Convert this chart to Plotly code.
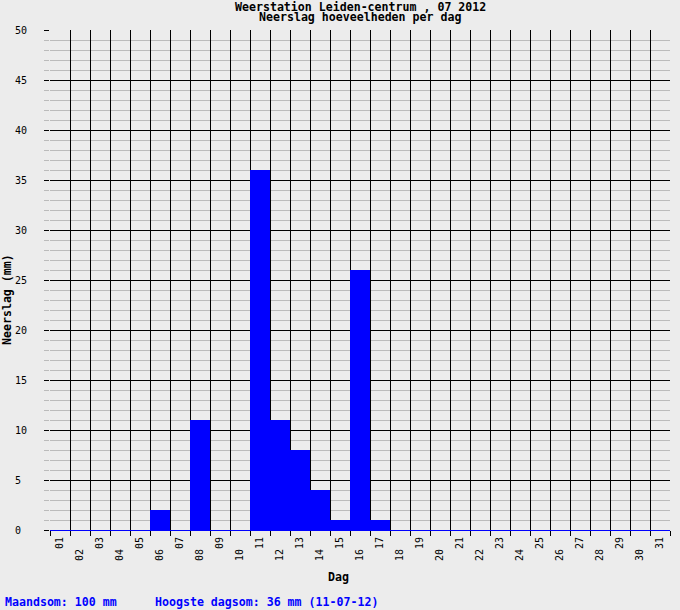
import plotly.graph_objects as go

# neerslag per dag, juli 2012 (mm)
dagen = ['%02d' % d for d in range(1, 32)]
neerslag = [0, 0, 0, 0, 0, 2, 0, 11, 0, 0,
            36, 11, 8, 4, 1, 26, 1, 0, 0, 0,
            0, 0, 0, 0, 0, 0, 0, 0, 0, 0, 0]
y_ticks = [0, 5, 10, 15, 20, 25, 30, 35, 40, 45, 50]

titel1 = 'Weerstation Leiden-centrum , 07 2012'
titel2 = 'Neerslag hoeveelheden per dag'
maandsom = 'Maandsom: 100 mm'
hoogste = 'Hoogste dagsom: 36 mm (11-07-12)'

NBSP = '\u00a0'
MONO = 'DejaVu Sans Mono'
BG = '#ececec'

# even dagen een regel lager (verspringende labels)
x_text = [d if i % 2 == 0 else d + NBSP * 2 for i, d in enumerate(dagen)]
# labels links uitlijnen
y_text = [str(v) if v >= 10 else str(v) + NBSP for v in y_ticks]

fig = go.Figure()
fig.add_trace(go.Bar(x=dagen, y=neerslag, marker=dict(color='#0000ff', line=dict(width=0)),
                     hoverinfo='x+y'))

fig.update_layout(
    width=680, height=610,
    margin=dict(l=50, r=10, t=30, b=80),
    paper_bgcolor=BG, plot_bgcolor=BG,
    bargap=0, showlegend=False,
    font=dict(family=MONO, size=10, color='black'),
    xaxis=dict(
        type='category', tickson='boundaries',
        tickvals=dagen, ticktext=x_text, tickangle=-90,
        ticks='outside', ticklen=5, tickcolor='black', tickwidth=1,
        showgrid=True, gridcolor='black', gridwidth=1,
        showline=False, zeroline=False,
        tickfont=dict(family=MONO, size=10),
        ticklabelstandoff=4,
    ),
    yaxis=dict(
        range=[0, 50], tickvals=y_ticks, ticktext=y_text,
        ticks='outside', ticklen=5, tickcolor='black',
        showgrid=True, gridcolor='black', gridwidth=1,
        minor=dict(dtick=1, showgrid=True, gridcolor='#bbbbbb', gridwidth=1,
                   ticks='outside', ticklen=5, tickcolor='#bbbbbb'),
        zeroline=True, zerolinecolor='#0000ff', zerolinewidth=1,
        showline=False,
        tickfont=dict(family=MONO, size=10),
        ticklabelstandoff=15,
    ),
)

bold = dict(family=MONO, size=11.6, color='black', weight='bold')
fig.add_annotation(text=titel1, xref='paper', yref='paper', x=0.5, y=1,
                   xanchor='center', yanchor='middle', yshift=23, font=bold, showarrow=False)
fig.add_annotation(text=titel2, xref='paper', yref='paper', x=0.5, y=1,
                   xanchor='center', yanchor='middle', yshift=13, font=bold, showarrow=False)
fig.add_annotation(text='Neerslag (mm)', xref='paper', yref='paper', x=0, y=0.5,
                   xanchor='center', yanchor='middle', xshift=-43, yshift=-20,
                   textangle=-90, font=bold, showarrow=False)
fig.add_annotation(text='Dag', xref='paper', yref='paper', x=0.5, y=0,
                   xanchor='center', yanchor='middle', xshift=-22, yshift=-47,
                   font=bold, showarrow=False)

blauw = dict(family=MONO, size=11.6, color='#0000ff', weight='bold')
fig.add_annotation(text=maandsom, xref='paper', yref='paper', x=0, y=0,
                   xanchor='left', yanchor='middle', xshift=-47, yshift=-72,
                   font=blauw, showarrow=False)
fig.add_annotation(text=hoogste, xref='paper', yref='paper', x=0, y=0,
                   xanchor='left', yanchor='middle', xshift=103, yshift=-72,
                   font=blauw, showarrow=False)

# standaard body-marge van de pagina weghalen
fig.write_html("out.html", config={'displayModeBar': False},
               post_script="document.body.style.margin='0';")
